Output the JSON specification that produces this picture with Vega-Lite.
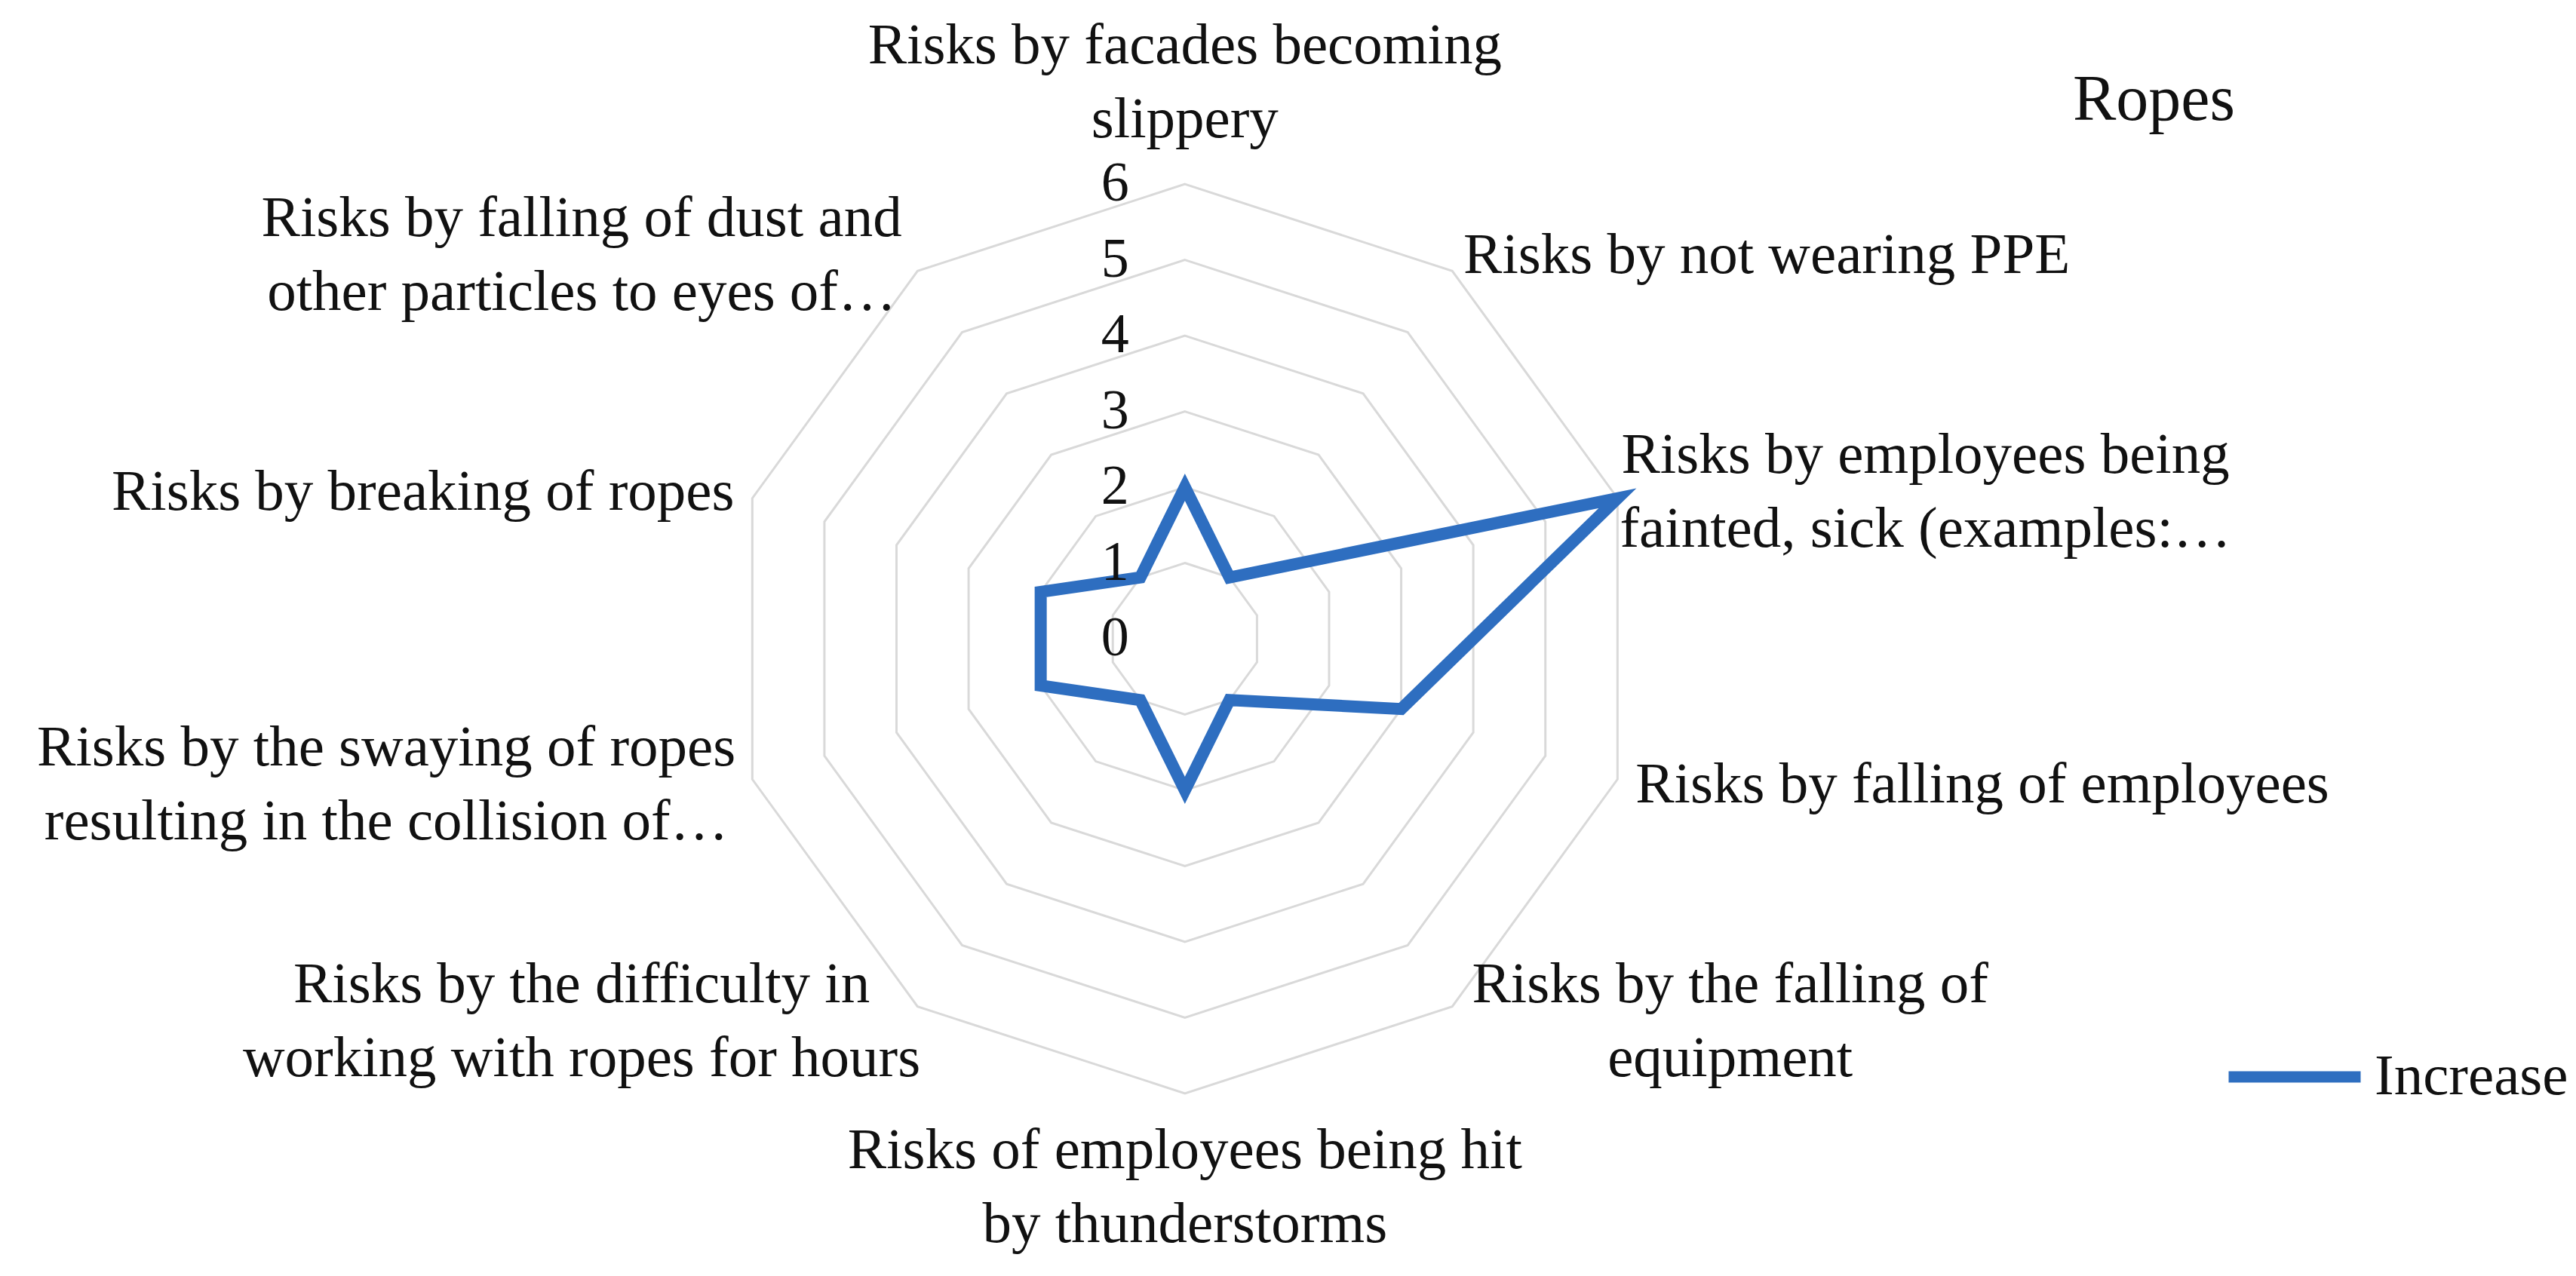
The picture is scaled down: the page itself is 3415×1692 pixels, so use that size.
{
  "$schema": "https://vega.github.io/schema/vega-lite/v6.json",
  "width": 3415,
  "height": 1692,
  "autosize": {"type": "fit", "contains": "padding"},
  "padding": 0,
  "background": "white",
  "config": {
    "view": {"stroke": null},
    "font": "Liberation Serif"
  },
  "title": {
    "text": "Ropes",
    "orient": "top",
    "anchor": "start",
    "frame": "group",
    "dx": 2748,
    "dy": 245,
    "offset": 0,
    "baseline": "alphabetic",
    "font": "Liberation Serif",
    "fontSize": 86,
    "fontWeight": "normal",
    "color": "#111111"
  },
  "datasets": {
    "risks": [
      {"i": 0, "series": "Increase", "label": "Risks by facades becoming\nslippery", "value": 2},
      {"i": 1, "series": "Increase", "label": "Risks by not wearing PPE", "value": 1},
      {"i": 2, "series": "Increase", "label": "Risks by employees being\nfainted, sick (examples:…", "value": 6},
      {"i": 3, "series": "Increase", "label": "Risks by falling of employees", "value": 3},
      {"i": 4, "series": "Increase", "label": "Risks by the falling of\nequipment", "value": 1},
      {"i": 5, "series": "Increase", "label": "Risks of employees being hit\nby thunderstorms", "value": 2},
      {"i": 6, "series": "Increase", "label": "Risks by the difficulty in\nworking with ropes for hours", "value": 1},
      {"i": 7, "series": "Increase", "label": "Risks by the swaying of ropes\nresulting in the collision of…", "value": 2},
      {"i": 8, "series": "Increase", "label": "Risks by breaking of ropes", "value": 2},
      {"i": 9, "series": "Increase", "label": "Risks by falling of dust and\nother particles to eyes of…", "value": 1}
    ],
    "levels": [
      {"level": 0, "k": [0, 1, 2, 3, 4, 5, 6, 7, 8, 9]},
      {"level": 1, "k": [0, 1, 2, 3, 4, 5, 6, 7, 8, 9]},
      {"level": 2, "k": [0, 1, 2, 3, 4, 5, 6, 7, 8, 9]},
      {"level": 3, "k": [0, 1, 2, 3, 4, 5, 6, 7, 8, 9]},
      {"level": 4, "k": [0, 1, 2, 3, 4, 5, 6, 7, 8, 9]},
      {"level": 5, "k": [0, 1, 2, 3, 4, 5, 6, 7, 8, 9]},
      {"level": 6, "k": [0, 1, 2, 3, 4, 5, 6, 7, 8, 9]}
    ]
  },
  "layer": [
    {
      "data": {"name": "levels"},
      "transform": [
        {"filter": "datum.level > 0"},
        {"flatten": ["k"]},
        {"calculate": "datum.k * PI / 5", "as": "a"},
        {"calculate": "datum.level * sin(datum.a)", "as": "px"},
        {"calculate": "datum.level * cos(datum.a)", "as": "py"}
      ],
      "mark": {"type": "line", "interpolate": "linear-closed", "stroke": "#D9D9D9", "strokeWidth": 3},
      "encoding": {
        "x": {"field": "px", "type": "quantitative", "scale": {"domain": [-15.63, 18.35], "nice": false, "zero": false}, "axis": null},
        "y": {"field": "py", "type": "quantitative", "scale": {"domain": [-8.41, 8.43], "nice": false, "zero": false}, "axis": null},
        "detail": {"field": "level", "type": "nominal"},
        "order": {"field": "k", "type": "quantitative"}
      }
    },
    {
      "data": {"name": "risks"},
      "transform": [
        {"calculate": "datum.i * PI / 5", "as": "a"},
        {"calculate": "datum.value * sin(datum.a)", "as": "px"},
        {"calculate": "datum.value * cos(datum.a)", "as": "py"}
      ],
      "mark": {"type": "line", "interpolate": "linear-closed", "strokeWidth": 16, "strokeJoin": "miter"},
      "encoding": {
        "x": {"field": "px", "type": "quantitative", "scale": {"domain": [-15.63, 18.35], "nice": false, "zero": false}, "axis": null},
        "y": {"field": "py", "type": "quantitative", "scale": {"domain": [-8.41, 8.43], "nice": false, "zero": false}, "axis": null},
        "order": {"field": "i", "type": "quantitative"},
        "color": {
          "field": "series",
          "type": "nominal",
          "scale": {"range": ["#2E6EC0"]},
          "legend": {
            "orient": "none",
            "legendX": 2947,
            "legendY": 1333,
            "title": null,
            "padding": 0,
            "symbolType": "stroke",
            "symbolSize": 30625,
            "symbolStrokeWidth": 15,
            "labelFont": "Liberation Serif",
            "labelFontSize": 77,
            "labelColor": "#111111",
            "labelOffset": 11,
            "labelLimit": 1000
          }
        }
      }
    },
    {
      "data": {"name": "levels"},
      "transform": [
        {"calculate": "0", "as": "px"},
        {"calculate": "datum.level", "as": "py"}
      ],
      "mark": {"type": "text", "align": "right", "baseline": "middle", "dx": -74, "fontSize": 74, "font": "Liberation Serif", "color": "#111111"},
      "encoding": {
        "x": {"field": "px", "type": "quantitative", "scale": {"domain": [-15.63, 18.35], "nice": false, "zero": false}, "axis": null},
        "y": {"field": "py", "type": "quantitative", "scale": {"domain": [-8.41, 8.43], "nice": false, "zero": false}, "axis": null},
        "text": {"field": "level", "type": "quantitative"}
      }
    },
    {
      "data": {"name": "risks"},
      "transform": [
        {"filter": "datum.i >= 1 && datum.i <= 4 && indexof(datum.label, '\\n') < 0"},
        {"calculate": "datum.i * PI / 5", "as": "a"},
        {"calculate": "6.25 * sin(datum.a)", "as": "px"},
        {"calculate": "6.25 * cos(datum.a)", "as": "py"}
      ],
      "mark": {"type": "text", "align": "left", "baseline": "middle", "fontSize": 77, "lineHeight": 98, "lineBreak": "\n", "font": "Liberation Serif", "color": "#111111"},
      "encoding": {
        "x": {"field": "px", "type": "quantitative", "scale": {"domain": [-15.63, 18.35], "nice": false, "zero": false}, "axis": null},
        "y": {"field": "py", "type": "quantitative", "scale": {"domain": [-8.41, 8.43], "nice": false, "zero": false}, "axis": null},
        "text": {"field": "label", "type": "nominal"}
      }
    },
    {
      "data": {"name": "risks"},
      "transform": [
        {"filter": "datum.i >= 1 && datum.i <= 4 && indexof(datum.label, '\\n') >= 0"},
        {"calculate": "datum.i * PI / 5", "as": "a"},
        {"calculate": "max(length(split(datum.label, '\\n')[0]), length(split(datum.label, '\\n')[1]))", "as": "maxlen"},
        {"calculate": "6.25 * sin(datum.a) + 0.153 * datum.maxlen", "as": "px"},
        {"calculate": "6.25 * cos(datum.a)", "as": "py"}
      ],
      "mark": {"type": "text", "align": "center", "baseline": "middle", "dy": -49, "fontSize": 77, "lineHeight": 98, "lineBreak": "\n", "font": "Liberation Serif", "color": "#111111"},
      "encoding": {
        "x": {"field": "px", "type": "quantitative", "scale": {"domain": [-15.63, 18.35], "nice": false, "zero": false}, "axis": null},
        "y": {"field": "py", "type": "quantitative", "scale": {"domain": [-8.41, 8.43], "nice": false, "zero": false}, "axis": null},
        "text": {"field": "label", "type": "nominal"}
      }
    },
    {
      "data": {"name": "risks"},
      "transform": [
        {"filter": "datum.i >= 6 && indexof(datum.label, '\\n') < 0"},
        {"calculate": "datum.i * PI / 5", "as": "a"},
        {"calculate": "6.25 * sin(datum.a)", "as": "px"},
        {"calculate": "6.25 * cos(datum.a)", "as": "py"}
      ],
      "mark": {"type": "text", "align": "right", "baseline": "middle", "fontSize": 77, "lineHeight": 98, "lineBreak": "\n", "font": "Liberation Serif", "color": "#111111"},
      "encoding": {
        "x": {"field": "px", "type": "quantitative", "scale": {"domain": [-15.63, 18.35], "nice": false, "zero": false}, "axis": null},
        "y": {"field": "py", "type": "quantitative", "scale": {"domain": [-8.41, 8.43], "nice": false, "zero": false}, "axis": null},
        "text": {"field": "label", "type": "nominal"}
      }
    },
    {
      "data": {"name": "risks"},
      "transform": [
        {"filter": "datum.i >= 6 && indexof(datum.label, '\\n') >= 0"},
        {"calculate": "datum.i * PI / 5", "as": "a"},
        {"calculate": "max(length(split(datum.label, '\\n')[0]), length(split(datum.label, '\\n')[1]))", "as": "maxlen"},
        {"calculate": "6.25 * sin(datum.a) - 0.153 * datum.maxlen", "as": "px"},
        {"calculate": "6.25 * cos(datum.a)", "as": "py"}
      ],
      "mark": {"type": "text", "align": "center", "baseline": "middle", "dy": -49, "fontSize": 77, "lineHeight": 98, "lineBreak": "\n", "font": "Liberation Serif", "color": "#111111"},
      "encoding": {
        "x": {"field": "px", "type": "quantitative", "scale": {"domain": [-15.63, 18.35], "nice": false, "zero": false}, "axis": null},
        "y": {"field": "py", "type": "quantitative", "scale": {"domain": [-8.41, 8.43], "nice": false, "zero": false}, "axis": null},
        "text": {"field": "label", "type": "nominal"}
      }
    },
    {
      "data": {"name": "risks"},
      "transform": [
        {"filter": "datum.i == 0"},
        {"calculate": "0", "as": "px"},
        {"calculate": "6.46", "as": "py"}
      ],
      "mark": {"type": "text", "align": "center", "baseline": "bottom", "dy": -98, "fontSize": 77, "lineHeight": 98, "lineBreak": "\n", "font": "Liberation Serif", "color": "#111111"},
      "encoding": {
        "x": {"field": "px", "type": "quantitative", "scale": {"domain": [-15.63, 18.35], "nice": false, "zero": false}, "axis": null},
        "y": {"field": "py", "type": "quantitative", "scale": {"domain": [-8.41, 8.43], "nice": false, "zero": false}, "axis": null},
        "text": {"field": "label", "type": "nominal"}
      }
    },
    {
      "data": {"name": "risks"},
      "transform": [
        {"filter": "datum.i == 5"},
        {"calculate": "0", "as": "px"},
        {"calculate": "-6.38", "as": "py"}
      ],
      "mark": {"type": "text", "align": "center", "baseline": "top", "fontSize": 77, "lineHeight": 98, "lineBreak": "\n", "font": "Liberation Serif", "color": "#111111"},
      "encoding": {
        "x": {"field": "px", "type": "quantitative", "scale": {"domain": [-15.63, 18.35], "nice": false, "zero": false}, "axis": null},
        "y": {"field": "py", "type": "quantitative", "scale": {"domain": [-8.41, 8.43], "nice": false, "zero": false}, "axis": null},
        "text": {"field": "label", "type": "nominal"}
      }
    }
  ]
}
